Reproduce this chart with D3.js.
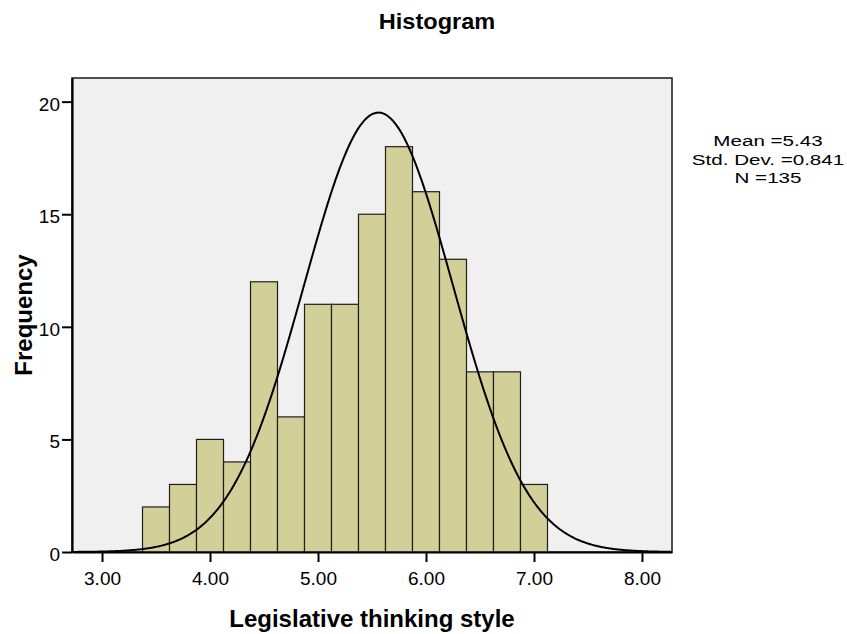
<!DOCTYPE html>
<html>
<head>
<meta charset="utf-8">
<script src="https://cdn.jsdelivr.net/npm/d3@7"></script>
<style>
  html, body { margin: 0; padding: 0; background: #ffffff; }
  svg { display: block; font-family: "Liberation Sans", Arial, sans-serif; }
</style>
</head>
<body>
<svg id="chart" width="847" height="634"></svg>
<script>
// Histogram bins (lower edge of each bin, width 0.25) and their counts
const binStarts = [3.375, 3.625, 3.875, 4.125, 4.375, 4.625, 4.875, 5.125, 5.375, 5.625, 5.875, 6.125, 6.375, 6.625, 6.875];
const binWidth = 0.25;
const counts = [2, 3, 5, 4, 12, 6, 11, 11, 15, 18, 16, 13, 8, 8, 3];

// Tick values
const xTicks = [3, 4, 5, 6, 7, 8];
const yTicks = [0, 5, 10, 15, 20];

// Summary statistics shown beside the plot
const statLines = ["Mean =5.43", "Std. Dev. =0.841", "N =135"];

// Normal curve overlay parameters
const curveMean = 5.56;
const curveSd = 0.69;
const curveN = 135;

const svg = d3.select("#chart");
const plot = { left: 72, top: 78, right: 672, bottom: 552 };

const x = d3.scaleLinear().domain([2.722, 8.278]).range([plot.left, plot.right]);
const y = d3.scaleLinear().domain([0, 21.05]).range([plot.bottom, plot.top]);

// Plot background
svg.append("rect")
  .attr("x", plot.left).attr("y", plot.top)
  .attr("width", plot.right - plot.left).attr("height", plot.bottom - plot.top)
  .attr("fill", "#f0f0f0")
  .attr("stroke", "#1a1a1a").attr("stroke-width", 1.5);

// Bars
svg.append("g").selectAll("rect")
  .data(binStarts.map((s, i) => ({ s, c: counts[i] })))
  .join("rect")
  .attr("x", d => x(d.s))
  .attr("y", d => y(d.c))
  .attr("width", d => x(d.s + binWidth) - x(d.s))
  .attr("height", d => y(0) - y(d.c))
  .attr("fill", "#d3cf98")
  .attr("stroke", "#1f1f1a")
  .attr("stroke-width", 1.2);

// Normal curve
const pts = d3.range(2.722, 8.278, 0.01).map(v => {
  const z = (v - curveMean) / curveSd;
  const dens = Math.exp(-0.5 * z * z) / (curveSd * Math.sqrt(2 * Math.PI));
  return [v, dens * curveN * binWidth];
});
svg.append("path")
  .datum(pts)
  .attr("fill", "none")
  .attr("stroke", "#000")
  .attr("stroke-width", 2)
  .attr("d", d3.line().x(d => x(d[0])).y(d => y(d[1])).curve(d3.curveBasis));

// Axes
const xAxis = d3.axisBottom(x).tickValues(xTicks).tickFormat(d3.format(".2f")).tickSize(10).tickSizeOuter(0);
const yAxis = d3.axisLeft(y).tickValues(yTicks).tickFormat(d3.format("d")).tickSize(10).tickSizeOuter(0);

const gx = svg.append("g").attr("transform", `translate(0,${plot.bottom})`).call(xAxis);
gx.attr("font-size", null).attr("font-family", null);
gx.select(".domain").attr("stroke", "#000").attr("stroke-width", 2.2);
gx.selectAll(".tick line").attr("stroke", "#000").attr("stroke-width", 2);
gx.selectAll(".tick text").attr("font-size", 19).attr("fill", "#000").attr("dy", null).attr("y", 33);

const gy = svg.append("g").attr("transform", `translate(${plot.left},0)`).call(yAxis);
gy.attr("font-size", null).attr("font-family", null);
gy.select(".domain").attr("stroke", "#000").attr("stroke-width", 2.2);
gy.selectAll(".tick line").attr("stroke", "#000").attr("stroke-width", 2);
gy.selectAll(".tick text").attr("font-size", 19).attr("fill", "#000").attr("x", -12).attr("dy", null).attr("y", 8.5);

// Title and axis titles
svg.append("text")
  .attr("x", 437).attr("y", 29)
  .attr("text-anchor", "middle")
  .attr("font-size", 22).attr("font-weight", "bold")
  .attr("transform", "translate(437,0) scale(1.07,1) translate(-437,0)")
  .text("Histogram");

svg.append("text")
  .attr("x", (plot.left + plot.right) / 2).attr("y", 626.5)
  .attr("text-anchor", "middle")
  .attr("font-size", 24).attr("font-weight", "bold")
  .text("Legislative thinking style");

svg.append("text")
  .attr("transform", `translate(32,${(plot.top + plot.bottom) / 2}) rotate(-90)`)
  .attr("text-anchor", "middle")
  .attr("font-size", 24).attr("font-weight", "bold")
  .text("Frequency");

// Statistics block
svg.append("g").selectAll("text")
  .data(statLines)
  .join("text")
  .attr("transform", (d, i) => `translate(768,${146 + i * 18.5}) scale(1.33,1)`)
  .attr("text-anchor", "middle")
  .attr("font-size", 15.5)
  .text(d => d);
</script>
</body>
</html>
